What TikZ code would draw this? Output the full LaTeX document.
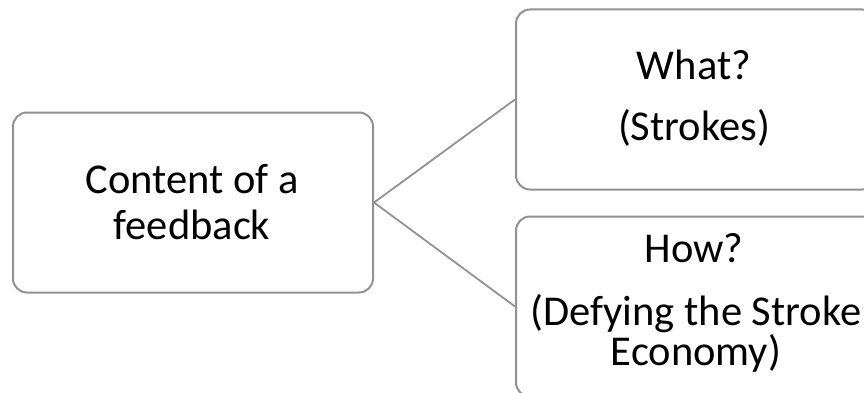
\documentclass[tikz,border=0pt]{standalone}
\usepackage{fontspec}
\setmainfont{Carlito}
\definecolor{boxgray}{HTML}{929292}
\begin{document}
\begin{tikzpicture}[x=1pt,y=1pt,
  card/.style={draw=boxgray, line width=2pt, rounded corners=14pt, fill=white,
    minimum width=360pt, minimum height=180pt, inner sep=0pt},
  label/.style={anchor=base, inner sep=0pt, font=\fontsize{42.5}{48}\selectfont, text=black},
  link/.style={draw=boxgray, line width=1.8pt}]
\useasboundingbox (0,0) rectangle (864,392);
\clip (0,0) rectangle (864,392);
% boxes
\node[card] (root) at (193,189.5) {};
\node[card] (what) at (696,292.5) {};
\node[card] (how)  at (696,85.5) {};
% connectors
\draw[link] (root.east) -- (what.west);
\draw[link] (root.east) -- (how.west);
% texts
\node[label] (r1) at (192,199) {Content of a};
\node[label] (r2) at (192,153) {feedback};
\node[label] (w1) at (694,313) {What?};
\node[label] (w2) at (694,252) {(Strokes)};
\node[label] (h1) at (694,130) {How?};
\node[label] (h2) at (696,67) {(Defying the Stroke};
\node[label] (h3) at (696,27) {Economy)};
\end{tikzpicture}
\end{document}
